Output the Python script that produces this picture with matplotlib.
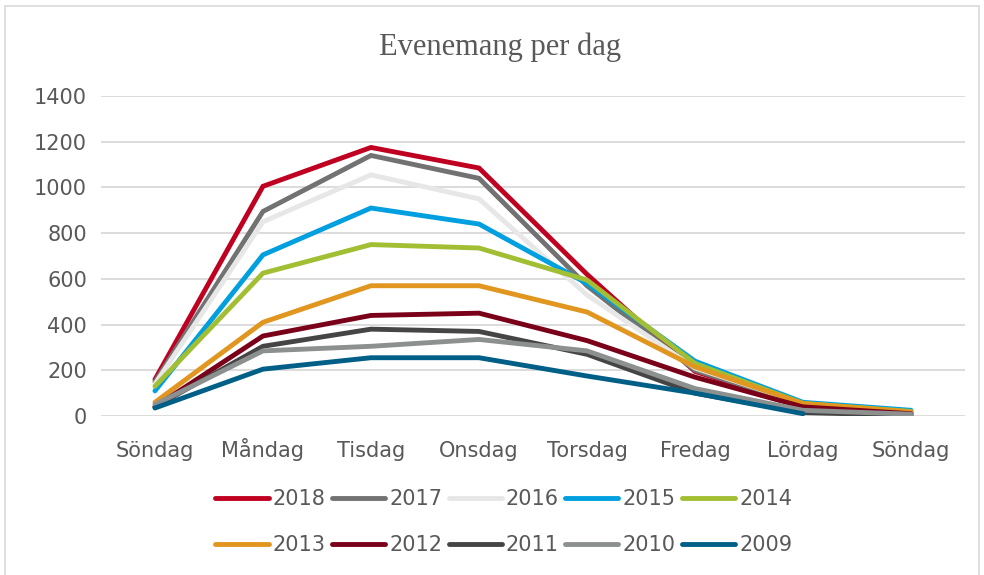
import matplotlib
matplotlib.use("Agg")
import matplotlib.pyplot as plt
from matplotlib.patches import Rectangle

days = ["S\u00f6ndag", "M\u00e5ndag", "Tisdag", "Onsdag", "Torsdag", "Fredag", "L\u00f6rdag", "S\u00f6ndag"]
years = ["2018", "2017", "2016", "2015", "2014", "2013", "2012", "2011", "2010", "2009"]
v2018 = [160, 1005, 1175, 1085, 620, 195, 45, 10]
v2017 = [150, 895, 1140, 1040, 570, 200, 50, 10]
v2016 = [140, 850, 1055, 950, 530, 210, 55, 12]
v2015 = [110, 705, 910, 840, 580, 240, 60, 25]
v2014 = [130, 625, 750, 735, 595, 230, 55, 20]
v2013 = [60, 410, 570, 570, 455, 215, 55, 18]
v2012 = [40, 350, 440, 450, 330, 170, 40, 10]
v2011 = [40, 305, 380, 370, 270, 100, 15, 3]
v2010 = [50, 285, 305, 335, 285, 120, 25, 8]
v2009 = [35, 205, 255, 255, 175, 100, 10]
series = [v2018, v2017, v2016, v2015, v2014, v2013, v2012, v2011, v2010, v2009]
colors = ['#C00020', '#727272', '#E6E7E6', '#009FDF', '#A2BE33',
          '#E0961F', '#7A0019', '#454545', '#8C908F', '#005F86']

sans = ['DejaVu Sans']
fig = plt.figure(figsize=(9.84, 5.75), dpi=100)
ax = fig.add_axes([0.1026, 0.2765, 0.8781, 0.5565])

handles = []
for y, vals, c in zip(years, series, colors):
    ln, = ax.plot(range(len(vals)), vals, color=c, lw=3.5, label=y, solid_capstyle='round',
                  solid_joinstyle='miter')
    handles.append(ln)

ax.set_xlim(-0.5, 7.5)
ax.set_ylim(0, 1400)
ax.set_yticks(range(0, 1401, 200))
ax.set_xticks(range(len(days)))
ax.set_xticklabels(days)
ax.grid(axis='y', color='#D9D9D9', lw=1.3)
ax.set_axisbelow(True)
for s in ax.spines.values():
    s.set_visible(False)
ax.tick_params(length=0, labelsize=15, labelcolor='#595959')
ax.tick_params(axis='y', pad=10)
ax.tick_params(axis='x', pad=29.5)
for lab in ax.get_xticklabels():
    lab.set_family(sans)
    lab.set_verticalalignment('baseline')
for lab in ax.get_yticklabels():
    lab.set_family(sans)

fig.text(0.508, 0.918, "Evenemang per dag", ha='center', va='center',
         fontsize=22, color='#595959', family=['Liberation Serif', 'DejaVu Serif'])

# row-major ordering for a 2x5 legend (matplotlib fills column-first)
order = [0, 5, 1, 6, 2, 7, 3, 8, 4, 9]
leg = fig.legend([handles[i] for i in order], [years[i] for i in order],
                 loc='center', bbox_to_anchor=(0.512, 0.092), ncol=5, frameon=False,
                 prop={'family': sans, 'size': 15}, handlelength=2.55, handletextpad=0.2,
                 columnspacing=0.3, labelspacing=1.25)
for t in leg.get_texts():
    t.set_color('#595959')
for h in leg.get_lines():
    h.set_linewidth(3.5)

fig.add_artist(Rectangle((0.005, -0.01), 0.99, 1.0, transform=fig.transFigure,
                         fill=False, edgecolor='#D9D9D9', lw=1.2))

fig.savefig("out.png", dpi=100)
